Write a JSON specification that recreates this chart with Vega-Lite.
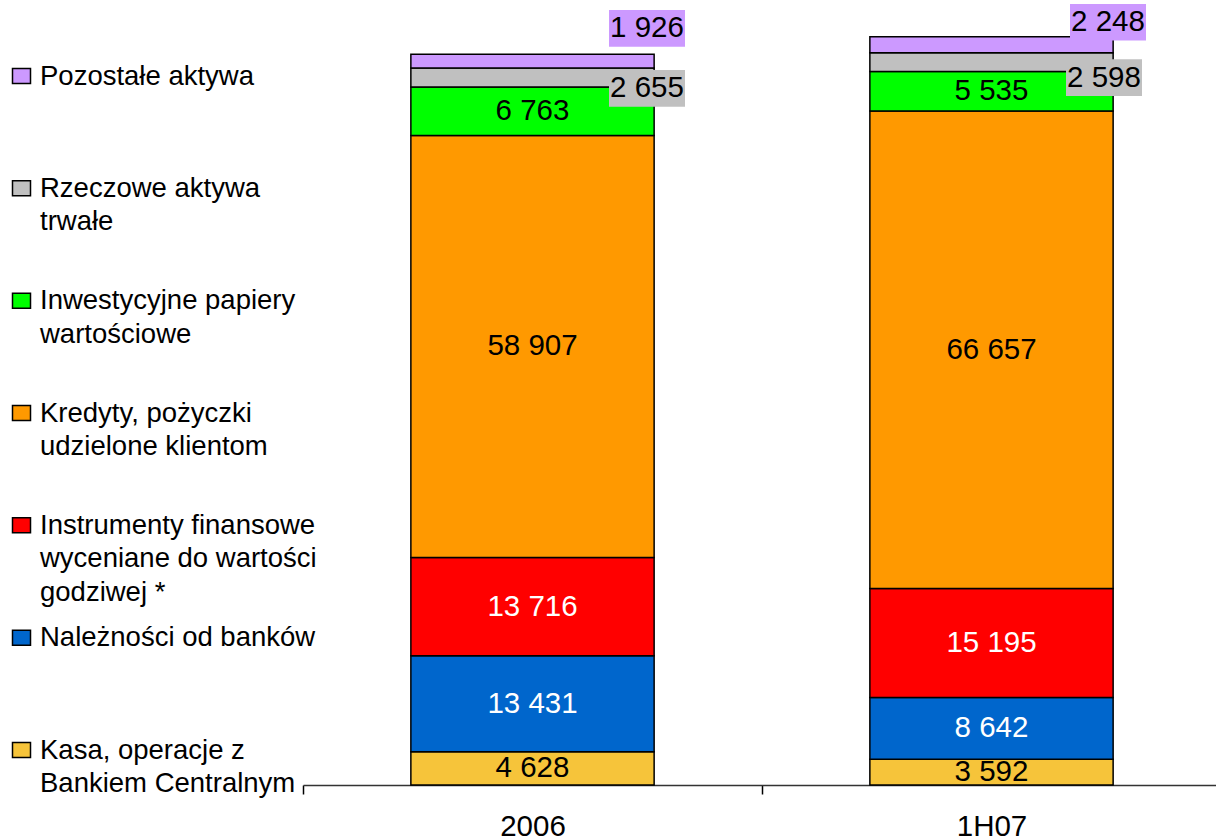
{
  "$schema": "https://vega.github.io/schema/vega-lite/v6.json",
  "padding": 0,
  "bounds": "flush",
  "spacing": 260,
  "background": "white",
  "config": {"view": {"stroke": null}, "font": "Liberation Sans", "text": {"font": "Liberation Sans"}},
  "datasets": {
    "assets": [
      {"period": "2006", "series": "Kasa, operacje z|Bankiem Centralnym", "value": 4628},
      {"period": "2006", "series": "Należności od banków", "value": 13431},
      {"period": "2006", "series": "Instrumenty finansowe|wyceniane do wartości|godziwej *", "value": 13716},
      {"period": "2006", "series": "Kredyty, pożyczki|udzielone klientom", "value": 58907},
      {"period": "2006", "series": "Inwestycyjne papiery|wartościowe", "value": 6763},
      {"period": "2006", "series": "Rzeczowe aktywa|trwałe", "value": 2655},
      {"period": "2006", "series": "Pozostałe aktywa", "value": 1926},
      {"period": "1H07", "series": "Kasa, operacje z|Bankiem Centralnym", "value": 3592},
      {"period": "1H07", "series": "Należności od banków", "value": 8642},
      {"period": "1H07", "series": "Instrumenty finansowe|wyceniane do wartości|godziwej *", "value": 15195},
      {"period": "1H07", "series": "Kredyty, pożyczki|udzielone klientom", "value": 66657},
      {"period": "1H07", "series": "Inwestycyjne papiery|wartościowe", "value": 5535},
      {"period": "1H07", "series": "Rzeczowe aktywa|trwałe", "value": 2598},
      {"period": "1H07", "series": "Pozostałe aktywa", "value": 2248}
    ]
  },
  "hconcat": [
    {
      "width": 43,
      "height": 785,
      "data": {"name": "assets"},
      "transform": [{"filter": "datum.period === '2006'"}],
      "encoding": {
        "y": {
          "field": "series", "type": "nominal",
          "scale": {"type": "point", "padding": 0, "domain": ["Pozostałe aktywa", "Rzeczowe aktywa|trwałe", "Inwestycyjne papiery|wartościowe", "Kredyty, pożyczki|udzielone klientom", "Instrumenty finansowe|wyceniane do wartości|godziwej *", "Należności od banków", "Kasa, operacje z|Bankiem Centralnym"], "range": [76, 750]},
          "axis": null
        }
      },
      "layer": [
        {
          "mark": {"type": "point", "shape": "M-9,-7.5L9,-7.5L9,7.5L-9,7.5Z", "size": 4, "filled": true, "stroke": "black", "strokeWidth": 1.5, "opacity": 1},
          "encoding": {
            "fill": {"field": "series", "type": "nominal", "legend": null,
              "scale": {"domain": ["Kasa, operacje z|Bankiem Centralnym", "Należności od banków", "Instrumenty finansowe|wyceniane do wartości|godziwej *", "Kredyty, pożyczki|udzielone klientom", "Inwestycyjne papiery|wartościowe", "Rzeczowe aktywa|trwałe", "Pozostałe aktywa"],
                "range": ["#F6C43A", "#0066CC", "#FF0000", "#FF9900", "#00FF00", "#C0C0C0", "#CC99FF"]}}
          }
        },
        {
          "mark": {"type": "text", "align": "left", "baseline": "alphabetic", "dx": 18.5, "dy": 8.5, "fontSize": 27.5, "lineBreak": "|", "lineHeight": 33.4, "color": "black"},
          "encoding": {"text": {"field": "series", "type": "nominal"}}
        }
      ]
    },
    {
      "width": 918,
      "height": 785,
      "data": {"name": "assets"},
      "transform": [
        {"calculate": "indexof(['Kasa, operacje z|Bankiem Centralnym', 'Należności od banków', 'Instrumenty finansowe|wyceniane do wartości|godziwej *', 'Kredyty, pożyczki|udzielone klientom', 'Inwestycyjne papiery|wartościowe', 'Rzeczowe aktywa|trwałe', 'Pozostałe aktywa'], datum.series)", "as": "ord"},
        {"stack": "value", "groupby": ["period"], "sort": [{"field": "ord", "order": "ascending"}], "as": ["v0", "v1"]},
        {"calculate": "(datum.v0 + datum.v1) / 2", "as": "mid"},
        {"calculate": "replace(format(datum.value, ','), ',', ' ')", "as": "label"}
      ],
      "encoding": {
        "x": {
          "field": "period", "type": "nominal", "sort": ["2006", "1H07"],
          "scale": {"paddingInner": 0, "paddingOuter": 0},
          "axis": {"title": null, "labelAngle": 0, "labelFontSize": 29.5, "labelColor": "black", "labelFont": "Liberation Sans", "labelPadding": 18, "tickBand": "extent", "tickSize": 9, "tickWidth": 1.5, "tickColor": "black", "domainColor": "#333333", "domainWidth": 1.5, "grid": false}
        }
      },
      "layer": [
        {
          "mark": {"type": "bar", "width": {"band": 0.53}, "stroke": "black", "strokeWidth": 1.5},
          "encoding": {
            "y": {"field": "v1", "type": "quantitative", "scale": {"domain": [0, 109600], "nice": false}, "axis": null},
            "y2": {"field": "v0"},
            "fill": {"field": "series", "type": "nominal", "legend": null,
              "scale": {"domain": ["Kasa, operacje z|Bankiem Centralnym", "Należności od banków", "Instrumenty finansowe|wyceniane do wartości|godziwej *", "Kredyty, pożyczki|udzielone klientom", "Inwestycyjne papiery|wartościowe", "Rzeczowe aktywa|trwałe", "Pozostałe aktywa"],
                "range": ["#F6C43A", "#0066CC", "#FF0000", "#FF9900", "#00FF00", "#C0C0C0", "#CC99FF"]}}
          }
        },
        {
          "transform": [{"filter": "datum.ord <= 4"}],
          "mark": {"type": "text", "fontSize": 29.5, "baseline": "middle", "align": "center"},
          "encoding": {
            "y": {"field": "mid", "type": "quantitative", "scale": {"domain": [0, 109600], "nice": false}, "axis": null},
            "text": {"field": "label", "type": "nominal"},
            "color": {"condition": {"test": "datum.ord === 1 || datum.ord === 2", "value": "white"}, "value": "black"}
          }
        },
        {
          "transform": [{"filter": "datum.period === '2006' && datum.ord === 6"}],
          "mark": {"type": "point", "shape": "M76.5,-51.1L152.5,-51.1L152.5,-14.5L76.5,-14.5Z", "size": 4, "filled": true, "strokeWidth": 0, "opacity": 1},
          "encoding": {
            "y": {"field": "mid", "type": "quantitative", "scale": {"domain": [0, 109600], "nice": false}, "axis": null},
            "fill": {"field": "series", "type": "nominal", "legend": null}
          }
        },
        {
          "transform": [{"filter": "datum.period === '2006' && datum.ord === 6"}],
          "mark": {"type": "text", "fontSize": 29.5, "baseline": "middle", "align": "center", "dx": 114.5, "dy": -32.8, "color": "black"},
          "encoding": {
            "y": {"field": "mid", "type": "quantitative", "scale": {"domain": [0, 109600], "nice": false}, "axis": null},
            "text": {"field": "label", "type": "nominal"}
          }
        },
        {
          "transform": [{"filter": "datum.period === '2006' && datum.ord === 5"}],
          "mark": {"type": "point", "shape": "M76.5,-7.5L152.5,-7.5L152.5,29.1L76.5,29.1Z", "size": 4, "filled": true, "strokeWidth": 0, "opacity": 1},
          "encoding": {
            "y": {"field": "mid", "type": "quantitative", "scale": {"domain": [0, 109600], "nice": false}, "axis": null},
            "fill": {"field": "series", "type": "nominal", "legend": null}
          }
        },
        {
          "transform": [{"filter": "datum.period === '2006' && datum.ord === 5"}],
          "mark": {"type": "text", "fontSize": 29.5, "baseline": "middle", "align": "center", "dx": 114.5, "dy": 10.8, "color": "black"},
          "encoding": {
            "y": {"field": "mid", "type": "quantitative", "scale": {"domain": [0, 109600], "nice": false}, "axis": null},
            "text": {"field": "label", "type": "nominal"}
          }
        },
        {
          "transform": [{"filter": "datum.period === '1H07' && datum.ord === 6"}],
          "mark": {"type": "point", "shape": "M78.5,-40.8L154.5,-40.8L154.5,-4.2L78.5,-4.2Z", "size": 4, "filled": true, "strokeWidth": 0, "opacity": 1},
          "encoding": {
            "y": {"field": "mid", "type": "quantitative", "scale": {"domain": [0, 109600], "nice": false}, "axis": null},
            "fill": {"field": "series", "type": "nominal", "legend": null}
          }
        },
        {
          "transform": [{"filter": "datum.period === '1H07' && datum.ord === 6"}],
          "mark": {"type": "text", "fontSize": 29.5, "baseline": "middle", "align": "center", "dx": 116.5, "dy": -22.5, "color": "black"},
          "encoding": {
            "y": {"field": "mid", "type": "quantitative", "scale": {"domain": [0, 109600], "nice": false}, "axis": null},
            "text": {"field": "label", "type": "nominal"}
          }
        },
        {
          "transform": [{"filter": "datum.period === '1H07' && datum.ord === 5"}],
          "mark": {"type": "point", "shape": "M74.5,-2.8L150.5,-2.8L150.5,33.8L74.5,33.8Z", "size": 4, "filled": true, "strokeWidth": 0, "opacity": 1},
          "encoding": {
            "y": {"field": "mid", "type": "quantitative", "scale": {"domain": [0, 109600], "nice": false}, "axis": null},
            "fill": {"field": "series", "type": "nominal", "legend": null}
          }
        },
        {
          "transform": [{"filter": "datum.period === '1H07' && datum.ord === 5"}],
          "mark": {"type": "text", "fontSize": 29.5, "baseline": "middle", "align": "center", "dx": 112.5, "dy": 15.5, "color": "black"},
          "encoding": {
            "y": {"field": "mid", "type": "quantitative", "scale": {"domain": [0, 109600], "nice": false}, "axis": null},
            "text": {"field": "label", "type": "nominal"}
          }
        }
      ]
    }
  ]
}
